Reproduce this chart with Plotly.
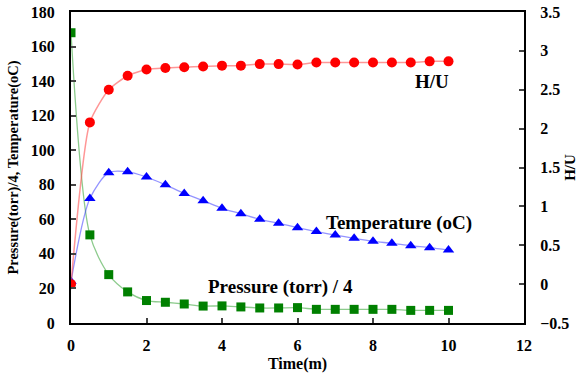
import plotly.graph_objects as go

time_m = [0, 0.5, 1, 1.5, 2, 2.5, 3, 3.5, 4, 4.5, 5, 5.5, 6, 6.5, 7, 7.5, 8, 8.5, 9, 9.5, 10]
h_u = [0, 2.08, 2.5, 2.68, 2.76, 2.78, 2.79, 2.80, 2.81, 2.81, 2.83, 2.83, 2.825, 2.85, 2.85, 2.85, 2.85, 2.85, 2.85, 2.865, 2.865]
temperature = [24, 72, 87, 87.5, 84.5, 80, 75, 70.8, 66.4, 63.3, 60.0, 57.7, 55.2, 52.9, 50.9, 49.0, 47.3, 46.1, 44.7, 43.6, 42.2]
pressure = [168, 51, 28, 18, 13, 12, 11, 9.8, 9.9, 9.3, 8.7, 8.7, 8.9, 7.9, 7.9, 7.9, 7.9, 7.9, 7.3, 7.3, 7.3]

left_ticks = [0, 20, 40, 60, 80, 100, 120, 140, 160, 180]
right_ticks = [-0.5, 0, 0.5, 1, 1.5, 2, 2.5, 3, 3.5]
x_ticks = [0, 2, 4, 6, 8, 10, 12]

FONT = "Liberation Serif"

fig = go.Figure()
fig.add_trace(go.Scatter(
    x=time_m, y=pressure, mode="lines+markers", line=dict(color="rgba(0,140,0,0.45)", width=1.3, shape="spline", smoothing=0.8),
    marker=dict(symbol="square", size=9, color="#008000"), yaxis="y", name="Pressure"))
fig.add_trace(go.Scatter(
    x=time_m, y=temperature, mode="lines+markers", line=dict(color="rgba(60,60,255,0.55)", width=1.3, shape="spline", smoothing=0.8),
    marker=dict(symbol="triangle-up", size=10, color="#0000ff"), yaxis="y", name="Temperature"))
fig.add_trace(go.Scatter(
    x=time_m, y=h_u, mode="lines+markers", line=dict(color="rgba(255,80,80,0.6)", width=1.5, shape="spline", smoothing=0.6),
    marker=dict(symbol="circle", size=10, color="#ff0000"), yaxis="y2", name="H/U"))

tickfont = dict(family=FONT, size=16, color="black", weight="bold")
titlefont = dict(family=FONT, size=14.5, color="black", weight="bold")
annfont = dict(family=FONT, size=19, color="black", weight="bold")

fig.update_layout(
    width=578, height=378,
    margin=dict(l=71, r=54, t=12, b=55),
    paper_bgcolor="white", plot_bgcolor="white",
    font=dict(family=FONT, color="black"),
    showlegend=False,
    xaxis=dict(range=[0, 12], tickvals=x_ticks, ticks="inside", ticklen=5, tickwidth=1.5, automargin=False,
               showline=True, linecolor="black", linewidth=2, mirror=True, showgrid=False, zeroline=False,
               ticklabelstandoff=7,
               tickfont=tickfont, title=dict(text="Time(m)", font=dict(family=FONT, size=16, color="black", weight="bold"), standoff=5)),
    yaxis=dict(range=[0, 180], tickvals=left_ticks, ticks="inside", ticklen=5, tickwidth=1.5, automargin=False,
               showline=True, linecolor="black", linewidth=2, showgrid=False, zeroline=False,
               ticklabelstandoff=11,
               tickfont=tickfont, title=dict(text="Pressure(torr)/4, Temperature(oC)", font=titlefont, standoff=9)),
    yaxis2=dict(range=[-0.5, 3.5], tickvals=right_ticks, overlaying="y", side="right", ticks="inside", ticklen=5,
                tickwidth=1.5, showline=True, linecolor="black", linewidth=2, showgrid=False, zeroline=False,
                automargin=False, ticklabelstandoff=11,
                tickfont=tickfont, title=dict(text="H/U", font=dict(family=FONT, size=15, color="black", weight="bold"), standoff=4)),
    annotations=[
        dict(x=9.55, y=140, xref="x", yref="y", text="H/U", showarrow=False, font=annfont),
        dict(x=8.7, y=58, xref="x", yref="y", text="Temperature (oC)", showarrow=False, font=annfont),
        dict(x=5.56, y=21, xref="x", yref="y", text="Pressure (torr) / 4", showarrow=False, font=annfont),
    ],
)

fig.write_html("out.html", config={"displayModeBar": False}, post_script="document.body.style.margin='0';")
